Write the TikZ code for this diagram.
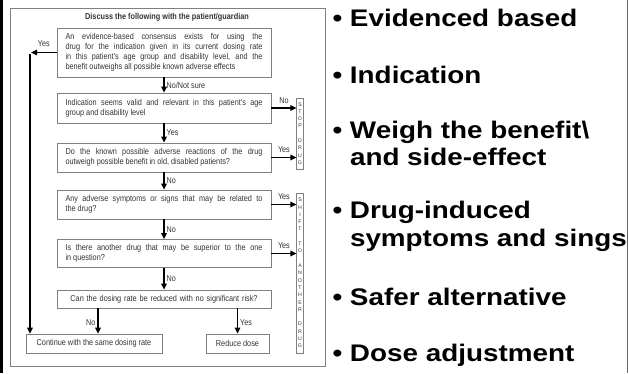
\documentclass[tikz,border=0pt]{standalone}
\usepackage{fontspec}
\setmainfont{Liberation Sans}
\newfontfamily\narrowfont[FakeStretch=0.85]{Liberation Sans}
\newfontfamily\wideboldfont[FakeStretch=1.16]{Liberation Sans}
\usetikzlibrary{arrows.meta,positioning}

\definecolor{boxgray}{gray}{0.5}
\definecolor{txtgray}{gray}{0.2}

\tikzset{
  qbox/.style={draw=boxgray, line width=0.8pt, text width=197pt, inner xsep=8.5pt, inner ysep=0pt,
    align=justify, text=txtgray, font=\narrowfont\fontsize{8.6}{10}\selectfont},
  endbox/.style={draw=boxgray, line width=0.8pt, minimum height=19pt, inner sep=0pt,
    text=txtgray, font=\narrowfont\fontsize{8.6}{10}\selectfont},
  sidebox/.style={draw=boxgray, line width=0.6pt, minimum width=6.5pt, inner sep=0pt,
    align=center, text=txtgray, font=\fontsize{5.2}{7.3}\selectfont},
  lab/.style={text=txtgray, font=\narrowfont\fontsize{8.5}{10}\selectfont, inner sep=2pt},
  arr/.style={-{Triangle[length=6pt,width=5.5pt]}, line width=1.3pt},
  point/.style={anchor=west, align=left, font=\wideboldfont\bfseries\fontsize{24}{27.5}\selectfont}
}

\newcommand{\pointmark}{\textbullet\ }

\begin{document}
\begin{tikzpicture}[x=1pt,y=-1pt]
    \useasboundingbox (0,0) rectangle (628,373);
    % outer edges
    \fill[black] (0,0) rectangle (3,373);
    \draw[black!60, line width=0.8pt] (627,0) -- (627,373);
    \draw[boxgray, line width=0.8pt] (10,8) rectangle (325,366);

    % Title
    \node[font=\narrowfont\bfseries\fontsize{8.6}{10}\selectfont, text=txtgray] (title) at (167,17)
        {Discuss the following with the patient/guardian};

    % Question boxes
    \node[qbox, minimum height=49pt] (evid) at (164,52.5)
        {An evidence-based consensus exists for using the\linebreak
         drug for the indication given in its current dosing rate\linebreak
         in this patient's age group and disability level, and the\linebreak
         benefit outweighs all possible known adverse effects};
    \node[qbox, minimum height=30pt] (indic) at (164,108)
        {Indication seems valid and relevant in this patient's age\linebreak
         group and disability level};
    \node[qbox, minimum height=29pt] (weigh) at (164,157.5)
        {Do the known possible adverse reactions of the drug\linebreak
         outweigh possible benefit in old, disabled patients?};
    \node[qbox, minimum height=29pt] (sympt) at (164,204.5)
        {Any adverse symptoms or signs that may be related to\linebreak
         the drug?};
    \node[qbox, minimum height=28pt] (alter) at (164,253.5)
        {Is there another drug that may be superior to the one\linebreak
         in question?};
    \node[qbox, minimum height=18pt, align=center] (dose) at (164,299)
        {Can the dosing rate be reduced with no significant risk?};

    % Outcome boxes
    \node[endbox, minimum width=136pt] (cont) at (94,343.5) {Continue with the same dosing rate};
    \node[endbox, minimum width=63pt] (reduce) at (237.5,343.5) {Reduce dose};

    % Side boxes
    \node[sidebox, minimum height=71pt] (stop) at (300,133.5)
        {S\\T\\O\\P\\[7.3pt]D\\R\\U\\G};
    \node[sidebox, minimum height=160pt] (shift) at (300,273)
        {S\\H\\I\\F\\T\\[7.3pt]T\\O\\[7.3pt]A\\N\\O\\T\\H\\E\\R\\[7.3pt]D\\R\\U\\G};

    % Main flow
    \draw[arr] (evid) -- node[lab, right] {No/Not sure} (indic);
    \draw[arr] (indic) -- node[lab, right] {Yes} (weigh);
    \draw[arr] (weigh) -- node[lab, right] {No} (sympt);
    \draw[arr] (sympt) -- node[lab, right] {No} (alter);
    \draw[arr] (alter) -- node[lab, right] {No} (dose);

    % Yes branch on the left
    \coordinate (ytop) at (30,52.5);
    \draw[arr] (evid.west) -- node[lab, above, yshift=3pt] {Yes} ([xshift=1pt]ytop);
    \draw[arr] ([yshift=-1.5pt]ytop) -- (ytop |- cont.north);

    % Dose reduction branches
    \draw[arr] ([xshift=4pt]cont.north |- dose.south) -- node[lab, left, pos=0.55] {No} ([xshift=4pt]cont.north);
    \draw[arr] (reduce.north |- dose.south) -- node[lab, right, pos=0.55] {Yes} (reduce.north);

    % Side arrows
    \draw[arr] (indic.east) -- node[lab, above, yshift=2pt] {No} (stop.west |- indic.east);
    \draw[arr] (weigh.east) -- node[lab, above, yshift=2pt] {Yes} (stop.west |- weigh.east);
    \draw[arr] (sympt.east) -- node[lab, above, yshift=2pt] {Yes} (shift.west |- sympt.east);
    \draw[arr] (alter.east) -- node[lab, above, yshift=2pt] {Yes} (shift.west |- alter.east);

    % Bullet points
    \node[point] (p1) at (329,18) {\pointmark Evidenced based};
    \node[point] (p2) at (329,75) {\pointmark Indication};
    \node[point] (p3) at (329,143.5) {\pointmark Weigh the benefit\textbackslash\\\phantom{\pointmark}and side-effect};
    \node[point] (p4) at (329,226.5) {\pointmark Drug-induced\\\phantom{\pointmark}symptoms and sings};
    \node[point] (p5) at (329,297) {\pointmark Safer alternative};
    \node[point] (p6) at (329,355) {\pointmark Dose adjustment};
\end{tikzpicture}
\end{document}
